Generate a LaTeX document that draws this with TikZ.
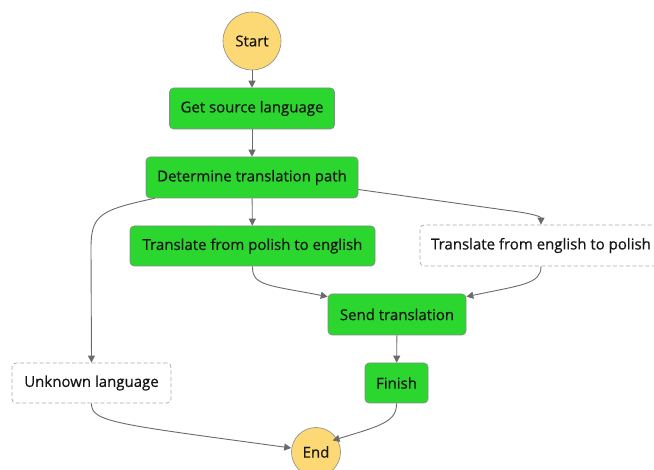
\documentclass[tikz,border=0pt]{standalone}
\usepackage{fontspec}
\setmainfont{Open Sans}
\newfontfamily\medfont{Open Sans}[FakeBold=0.6]
\usetikzlibrary{arrows.meta,calc}
\definecolor{stgreen}{HTML}{2BD62E}
\definecolor{stborder}{HTML}{8A8A8A}
\definecolor{styellow}{HTML}{FDD976}
\definecolor{stedge}{HTML}{6B6B6B}
\definecolor{sttext}{HTML}{161616}
\definecolor{stdash}{HTML}{AAAAAA}
\tikzset{
  base/.style={font=\medfont\fontsize{15}{17}\selectfont, text=sttext, inner sep=0pt},
  task/.style={base, rectangle, rounded corners=4pt, fill=stgreen, draw=stborder, line width=0.6pt},
  opt/.style={base, rectangle, rounded corners=4pt, fill=white, draw=stdash, dashed, dash pattern=on 4pt off 2.5pt, line width=0.8pt},
  term/.style={base, circle, fill=styellow, draw=stborder, line width=0.6pt},
  conn/.style={draw=stedge, line width=0.9pt, -{Triangle[length=7pt,width=7pt]}},
}
\begin{document}
\begin{tikzpicture}[x=1pt,y=-1pt]
\useasboundingbox (0,0) rectangle (654,470);
\clip (0,0) rectangle (654,470);
\fill[white] (0,0) rectangle (654,470);
\node[term, minimum size=58pt] (start) at (252,41) {Start};
\node[task, minimum width=165pt, minimum height=41pt] (get) at (252,108.5) {Get source language};
\node[task, minimum width=212pt, minimum height=41pt] (det) at (252,177.5) {Determine translation path};
\node[task, minimum width=245pt, minimum height=40pt] (pe) at (252.5,246) {Translate from polish to english};
\node[opt, minimum width=242pt, minimum height=41pt] (ep) at (541,245.5) {Translate from english to polish};
\node[task, minimum width=138pt, minimum height=41pt] (send) at (397,314.5) {Send translation};
\node[opt, minimum width=159pt, minimum height=40pt] (unk) at (91.5,383) {Unknown language};
\node[task, minimum width=63pt, minimum height=40pt] (fin) at (396.5,383) {Finish};
\node[term, minimum size=49pt] (end) at (316,452) {End};

\coordinate (detL) at ($(det.south west)+(9,0)$);
\coordinate (detR) at ($(det.east)+(0,12)$);
\coordinate (sendL) at ($(send.north west)+(0,3)$);
\coordinate (sendR) at ($(send.north east)+(0,3)$);
\coordinate (endL) at ($(end.west)+(0,-4)$);
\coordinate (endR) at ($(end.north east)+(-1,6)$);

\draw[conn] (start) -- (get);
\draw[conn] (get) -- (det);
\draw[conn] (det) -- (pe);
\draw[conn] (detL) .. controls (100,210) and (91,215) .. (91,248) -- (unk.north);
\draw[conn] (detR) -- (512,211) .. controls (535,214) and (541,217) .. (ep.north);
\draw[conn] (pe.south) .. controls (252,286) and (268,285) .. (sendL);
\draw[conn] (ep.south) .. controls (541,284) and (522,285) .. (sendR);
\draw[conn] (send) -- (fin);
\draw[conn] (unk.south) .. controls (91,422) and (115,424) .. (endL);
\draw[conn] (fin.south) .. controls (397,422) and (380,426) .. (endR);
\end{tikzpicture}
\end{document}
